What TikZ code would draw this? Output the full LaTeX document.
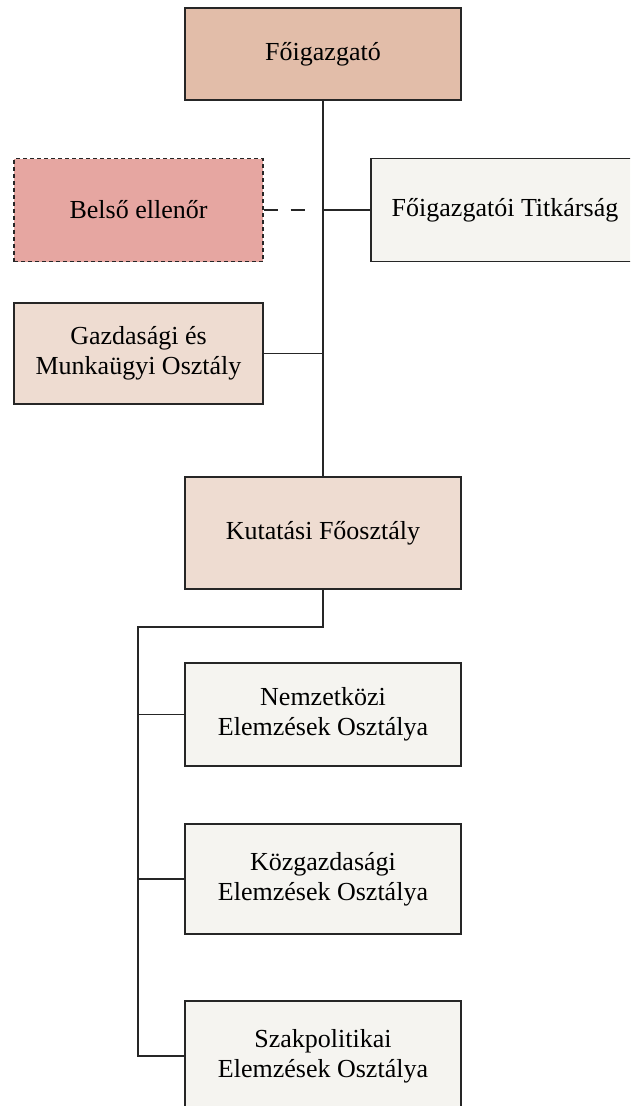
\documentclass[tikz,border=0pt]{standalone}
\usepackage{fontspec}
\setmainfont{Liberation Serif}
\definecolor{cFo}{HTML}{E2BDA9}
\definecolor{cBelso}{HTML}{E6A6A1}
\definecolor{cMid}{HTML}{EEDCD1}
\definecolor{cLight}{HTML}{F5F4F0}
\definecolor{cLine}{HTML}{262626}
\begin{document}
\begin{tikzpicture}[x=1pt,y=-1pt,
  unit/.style={draw=cLine, line width=1.3pt, align=center, inner sep=0pt,
    font=\fontsize{26}{30}\selectfont, text=black},
  conn/.style={draw=cLine, line width=1.3pt},
  dashconn/.style={draw=cLine, line width=1.3pt, dash pattern=on 14pt off 13pt}]
\clip (0,0) rectangle (630,1106);
\fill[white] (0,0) rectangle (630,1106);
\node[unit, fill=cFo, minimum width=276pt, minimum height=92pt] (fo) at (323,54) {Főigazgató};
\node[unit, fill=cBelso, dashed, dash pattern=on 4pt off 3pt, minimum width=249pt, minimum height=103pt] (belso) at (138.5,210) {Belső ellenőr};
\node[unit, fill=cLight, minimum width=268pt, minimum height=103pt] (titk) at (505,210) {Főigazgatói Titkárság};
\node[unit, fill=cMid, minimum width=249pt, minimum height=101pt] (gazd) at (138.5,353.5) {Gazdasági és\\Munkaügyi Osztály};
\node[unit, fill=cMid, minimum width=276pt, minimum height=112pt] (kut) at (323,533) {Kutatási Főosztály};
\node[unit, fill=cLight, minimum width=276pt, minimum height=103pt] (nem) at (323,714.5) {Nemzetközi\\Elemzések Osztálya};
\node[unit, fill=cLight, minimum width=276pt, minimum height=110pt] (koz) at (323,879) {Közgazdasági\\Elemzések Osztálya};
\node[unit, fill=cLight, minimum width=276pt, minimum height=110pt] (szak) at (323,1056) {Szakpolitikai\\Elemzések Osztálya};
\coordinate (jt) at (fo.south |- titk.west);
\coordinate (jd) at ([xshift=-17pt]jt);
\coordinate (jg) at (fo.south |- gazd.east);
\coordinate (j1) at (323,627);
\coordinate (j2) at (138,627);
\draw[conn] (fo.south) -- (kut.north);
\draw[conn] (titk.west) -- (jt);
\draw[dashconn] (belso.east) -- (jd);
\draw[conn] (gazd.east) -- (jg);
\draw[conn] (kut.south) -- (j1) -- (j2) -- (j2 |- szak.west) -- (szak.west);
\draw[conn] (nem.west) -- (nem.west -| j2);
\draw[conn] (koz.west) -- (koz.west -| j2);
\end{tikzpicture}
\end{document}
